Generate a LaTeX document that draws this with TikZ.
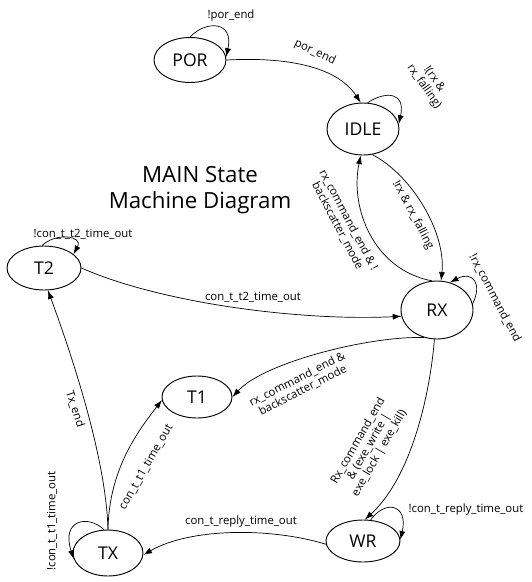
\documentclass[tikz,border=0pt]{standalone}
\usepackage{fontspec}
\setmainfont{Open Sans}
\usetikzlibrary{shapes.geometric,arrows.meta}

\begin{document}
\begin{tikzpicture}[x=0.3mm, y=0.3mm,
  state/.style={draw, ellipse, thick, inner sep=0pt, font=\fontsize{15}{17}\selectfont},
  lbl/.style={inner sep=0pt, align=center, font=\fontsize{9.7}{10.5}\selectfont},
  tr/.style={semithick, -{Latex[length=2.6mm, width=1.8mm]}}]
  \useasboundingbox (0,0) rectangle (531,-582);
  \node[align=center, font=\fontsize{19}{22}\selectfont] (title) at (200,-190) {MAIN State\\Machine Diagram};
  \node[state, minimum width=21.6mm, minimum height=13.5mm] (por) at (190,-60) {POR};
  \node[state, minimum width=21.6mm, minimum height=15.6mm] (idle) at (363,-129) {IDLE};
  \node[state, minimum width=21.6mm, minimum height=17.4mm] (rx) at (437,-310) {RX};
  \node[state, minimum width=22.2mm, minimum height=13.2mm] (t2) at (44,-268) {T2};
  \node[state, minimum width=21mm, minimum height=12.6mm] (t1) at (197,-397) {T1};
  \node[state, minimum width=21mm, minimum height=13.8mm] (tx) at (108,-553) {TX};
  \node[state, minimum width=22.2mm, minimum height=12.6mm] (wr) at (363,-541) {WR};
  \draw[tr] (por.north) .. controls +(16,17) and +(8,36) .. (por.5);
  \draw[tr] (por.east) .. controls +(55,3) and +(-25,38) .. (idle.95);
  \draw[tr] (idle.80) .. controls +(18,12) and +(7,32) .. (idle.8);
  \draw[tr] (idle.290) .. controls +(40,-21) and +(5,48) .. (rx.82);
  \draw[tr] (rx.100) .. controls +(-58,11) and +(-11,-53) .. (idle.265);
  \draw[tr] (rx.10) .. controls +(10,20) and +(23,12) .. (rx.65);
  \draw[tr] (t2.95) .. controls +(13,13) and +(10,19) .. (t2.25);
  \draw[tr] (t2.0) .. controls +(79,-35) and +(-101,-5) .. (rx.190);
  \draw[tr] (rx.245) .. controls +(-53,2) and +(32,35) .. (t1.east);
  \draw[tr] (rx.265) .. controls +(-5,-60) and +(45,41) .. (wr.85);
  \draw[tr] (wr.70) .. controls +(15,21) and +(8,35) .. (wr.2);
  \draw[tr] (wr.185) .. controls +(-56,17) and +(47,27) .. (tx.357);
  \draw[tr] (tx.north) .. controls +(-2,71) and +(25,-68) .. (t2.280);
  \draw[tr] (tx.north) .. controls +(1,61) and +(-23,-30) .. (t1.185);
  \draw[tr] (tx.100) .. controls +(-15,15) and +(-13,40) .. (tx.190);
  \node[lbl] (lporloop) at (231,-16) {!por\_end};
  \node[lbl, rotate=-25] (lporend) at (315,-52) {por\_end};
  \node[lbl, rotate=-55] (lidleloop) at (429,-83) {!(rx \&\\rx\_falling)};
  \node[lbl, rotate=-62] (lrxfall) at (413,-215) {!rx \& rx\_falling};
  \node[lbl, rotate=-62] (lback) at (343,-223) {rx\_command\_end \& !\\backscatter\_mode};
  \node[lbl, rotate=-62] (lrxloop) at (495,-298) {!rx\_command\_end};
  \node[lbl] (lttwoloop) at (83,-234) {!con\_t\_t2\_time\_out};
  \node[lbl] (lttwoout) at (253,-297) {con\_t\_t2\_time\_out};
  \node[lbl, rotate=27] (ltonein) at (300,-385) {rx\_command\_end \&\\backscatter\_mode};
  \node[lbl, rotate=60] (lwrin) at (369,-447) {Rx\_command\_end\\\& (exe\_write |\\exe\_lock | exe\_kill)};
  \node[lbl] (lwrloop) at (466,-510) {!con\_t\_reply\_time\_out};
  \node[lbl] (lreply) at (241,-522) {con\_t\_reply\_time\_out};
  \node[lbl, rotate=-72] (ltxend) at (75,-409) {Tx\_end};
  \node[lbl, rotate=60] (ltoneout) at (146,-467) {con\_t\_t1\_time\_out};
  \node[lbl, rotate=90] (ltxloop) at (52,-521) {!con\_t\_t1\_time\_out};
\end{tikzpicture}
\end{document}
